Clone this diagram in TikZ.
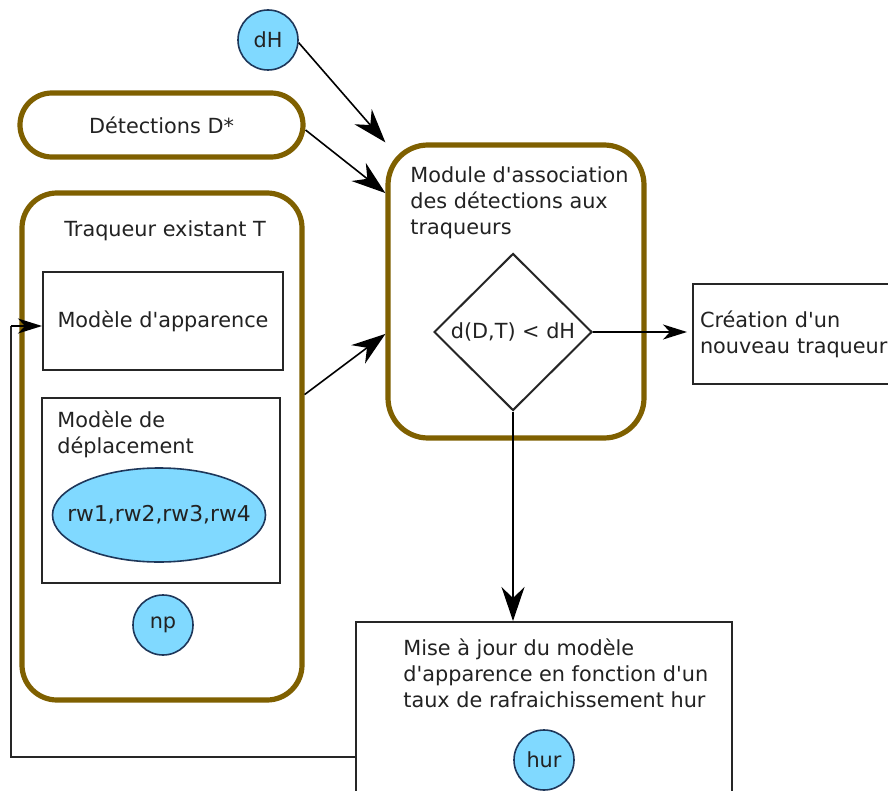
\documentclass[tikz,border=0pt]{standalone}
\usepackage{fontspec}
\setmainfont{DejaVu Sans}[Ligatures=TeXOff]
\usetikzlibrary{shapes.geometric,arrows.meta}
\definecolor{brn}{RGB}{127,96,0}
\definecolor{lb}{RGB}{128,217,255}
\definecolor{db}{RGB}{30,55,90}
\definecolor{txt}{RGB}{34,34,34}
\begin{document}
\begin{tikzpicture}[x=0.5pt,y=-0.5pt,
  font=\fontsize{10.4}{13}\selectfont, text=txt,
  brownbox/.style={draw=brn,line width=2.6pt},
  blackbox/.style={draw=black!85,line width=1pt,inner sep=0pt},
  circ/.style={circle,draw=db,fill=lb,line width=0.8pt,minimum size=30pt,inner sep=0pt},
  plain/.style={inner sep=0pt,align=left},
  bigarrow/.style={draw=black,line width=0.8pt,-{Stealth[length=17pt,width=11.5pt,inset=5.5pt]}},
  smallarrow/.style={draw=black,line width=0.8pt,-{Stealth[length=12pt,width=7.5pt,inset=3.5pt]}},
  link/.style={draw=black!85,line width=0.8pt}]
\useasboundingbox (0,0) rectangle (888,791);
\clip (0,0) rectangle (888,791);
\fill[white] (0,0) rectangle (888,791);

% top inputs
\node[circ] (dH) at (268,40) {dH};
\node[brownbox,rounded corners=16pt,minimum width=141.5pt,minimum height=32pt] (det) at (161.5,125) {Détections D*};

% existing tracker
\node[brownbox,rounded corners=17.5pt,minimum width=140pt,minimum height=253.5pt] (traq) at (162,446.5) {};
\node[plain] (traqt) at (165,231) {Traqueur existant T};
\node[blackbox,minimum width=120pt,minimum height=49pt] (app) at (163,321) {Modèle d'apparence};
\node[blackbox,minimum width=119pt,minimum height=92.5pt] (dep) at (161,490.5) {};
\node[plain,anchor=north west] (dept) at (57,410) {Modèle de\\déplacement};
\node[ellipse,draw=db,fill=lb,line width=0.8pt,minimum width=106.5pt,minimum height=47pt,inner sep=0pt] (ell) at (159,515) {};
\node[plain,font=\fontsize{10.9}{13}\selectfont] (ellt) at (ell.center) {rw1,rw2,rw3,rw4};
\node[circ] (np) at (163,625) {np};

% association module
\node[brownbox,rounded corners=20pt,minimum width=128pt,minimum height=146.5pt] (mod) at (516,291.5) {};
\node[plain,anchor=north west] (modt) at (410,166) {Module d'association\\des détections aux\\traqueurs};
\node[diamond,draw=black!85,line width=1pt,aspect=1,minimum width=79pt,minimum height=78.5pt,inner sep=0pt] (dia) at (513,332) {d(D,T) < dH};

% new tracker
\node[blackbox,minimum width=106pt,minimum height=50pt,text width=99pt,align=left,inner xsep=3.5pt] (cre) at (799,334) {Création d'un\\nouveau traqueur};

% update
\node[blackbox,minimum width=188pt,minimum height=104pt] (mise) at (544,726) {};
\node[plain,anchor=north west] (miset) at (403,638) {Mise à jour du modèle\\d'apparence en fonction d'un\\taux de rafraichissement hur};
\node[circ] (hur) at (544,760) {hur};

% connectors
\coordinate (fbA) at (11,757);
\coordinate (fbB) at (11,326);
\draw[bigarrow] (dH.-5) -- (mod.north west);
\draw[bigarrow] (det.-2) -- (mod.143.3);
\draw[bigarrow] (traq.20.2) -- (mod.198);
\draw[smallarrow] (dia.east) -- ([xshift=-2.5pt]dia.east -| cre.west);
\draw[bigarrow] (dia.south) -- (dia.south |- mise.north);
\draw[link] (mise.west |- fbA) -- (fbA) -- (fbB);
\draw[smallarrow] (fbB) -- (fbB -| app.west);
\end{tikzpicture}
\end{document}
